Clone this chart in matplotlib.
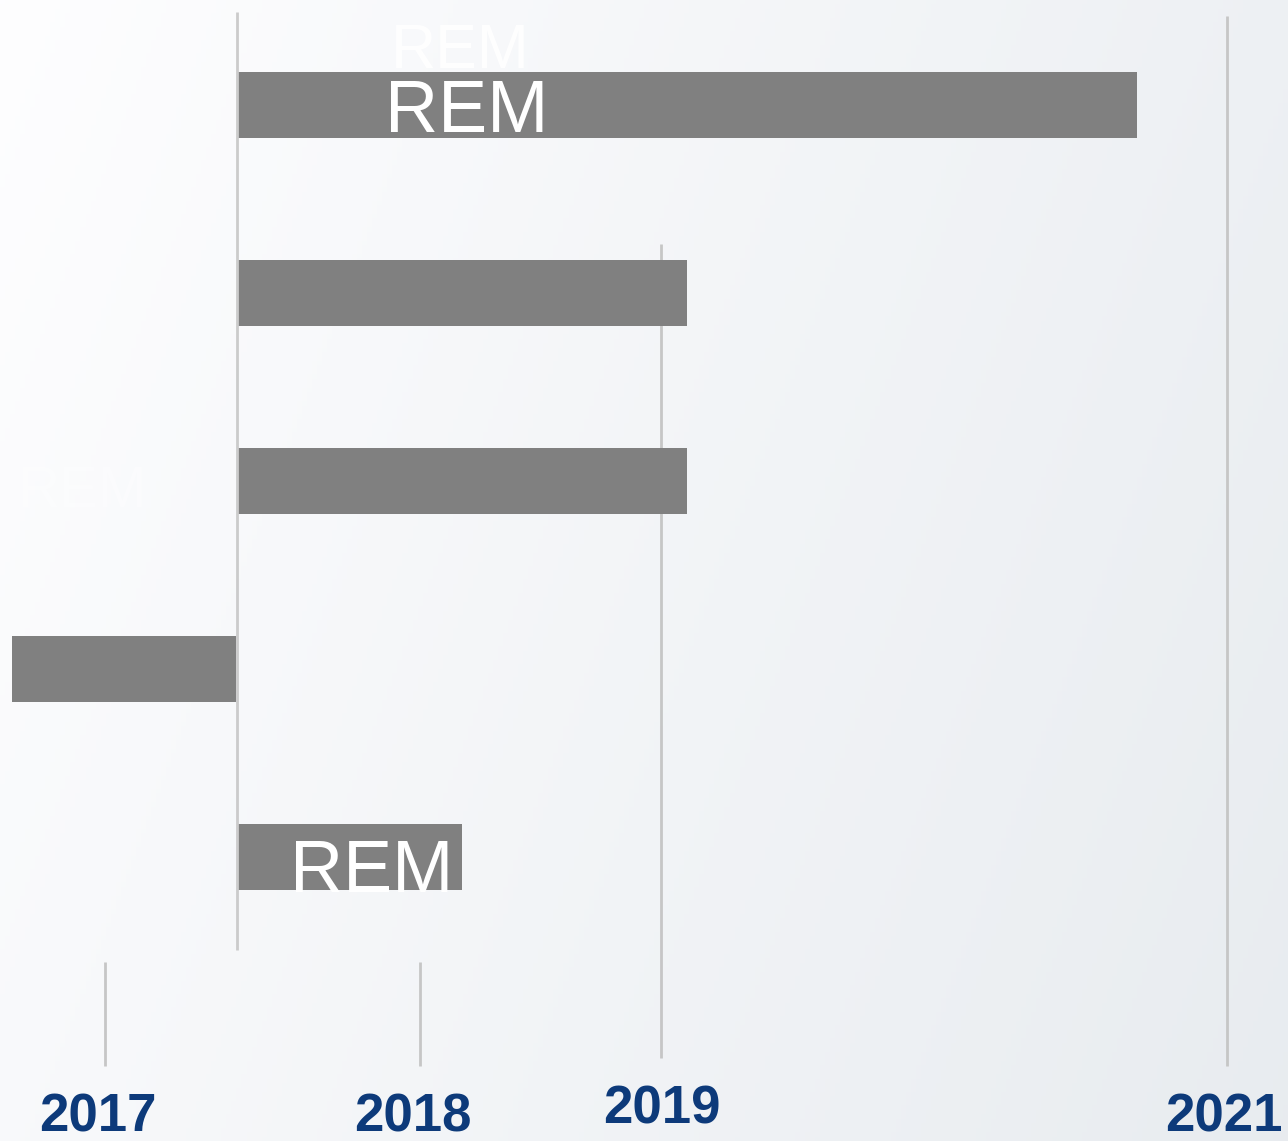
import numpy as np
import matplotlib.pyplot as plt

# timeline positions (horizontal units of the slide)
rows = [1, 2, 3, 4, 5]
bar_start = [238, 238, 238, 12, 238]
bar_end = [1137, 687, 687, 236, 462]
bar_y = [105, 293, 481, 669, 857]

years = ['2017', '2018', '2019', '2021']
year_x = [105, 420, 661, 1227]
year_line_top = [962, 962, 244, 16]
year_line_bottom = [1066, 1066, 1058, 1066]
year_label_x = [98, 413, 662, 1224]
year_label_y = [1117, 1117, 1110, 1117]

fig = plt.figure(figsize=(12.88, 11.41), dpi=100)
ax = fig.add_axes([0, 0, 1, 1])
ax.set_xlim(0, 1288)
ax.set_ylim(1141, 0)
ax.axis('off')

# background gradient
grad = np.linspace(0, 1, 256)
gx, gy = np.meshgrid(grad, grad)
g = np.clip(0.75 * gx + 0.25 * gy, 0, 1)
c0 = np.array([0.995, 0.995, 1.0])
c1 = np.array([0.91, 0.925, 0.94])
img = c0[None, None, :] * (1 - g[..., None]) + c1[None, None, :] * g[..., None]
ax.imshow(img, extent=[0, 1288, 1141, 0], aspect='auto', zorder=0)

# bars
ax.barh(bar_y, np.array(bar_end) - np.array(bar_start), left=bar_start,
        height=66, color='#808080', zorder=2)

# vertical guide lines
ax.vlines(237, 12, 950, color='#cbcbcb', lw=2, zorder=3)
ax.vlines(year_x, year_line_top, year_line_bottom, color='#c6c6c6', lw=2, zorder=1)

# year labels
for lab, x, y in zip(years, year_label_x, year_label_y):
    ax.text(x, y, lab, ha='center', va='center', fontsize=38,
            fontweight='bold', color='#0d3a7a', family='Liberation Sans',
            zorder=4)

# labels
ax.text(460, 52, 'REM', ha='center', va='center', fontsize=45, color='white',
        family='Liberation Sans', alpha=0.95, zorder=4)
ax.text(467, 112, 'REM', ha='center', va='center', fontsize=53, color='white',
        family='Liberation Sans', zorder=4)
ax.text(372, 872, 'REM', ha='center', va='center', fontsize=53, color='white',
        family='Liberation Sans', zorder=4)
ax.text(82, 492, 'REM', ha='center', va='center', fontsize=42, color='white',
        family='Liberation Sans', alpha=0.35, zorder=4)

fig.savefig('out.png', dpi=100)
